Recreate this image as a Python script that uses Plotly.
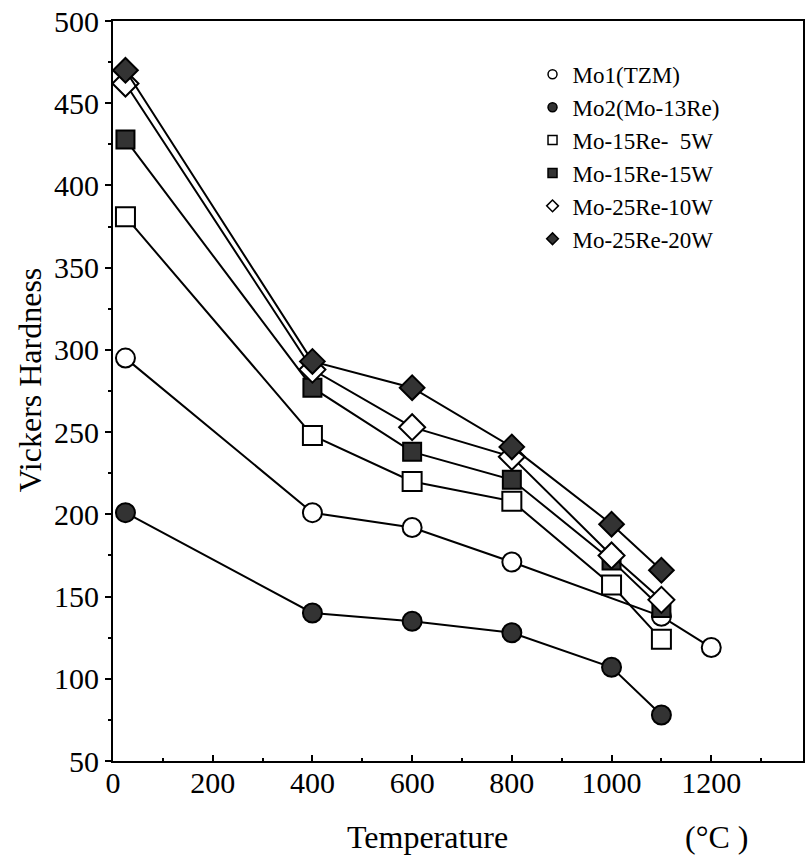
import plotly.graph_objects as go

# ---- data ----
temps_mo1 = [25, 400, 600, 800, 1100, 1200]
hv_mo1 = [295, 201, 192, 171, 138, 119]

temps = [25, 400, 600, 800, 1000, 1100]
hv_mo2 = [201, 140, 135, 128, 107, 78]
hv_15re5w = [381, 248, 220, 208, 157, 124]
hv_15re15w = [428, 277, 238, 221, 172, 143]
hv_25re10w = [462, 288, 253, 235, 175, 148]
hv_25re20w = [470, 293, 277, 241, 194, 166]

names = ["Mo1(TZM)", "Mo2(Mo-13Re)", "Mo-15Re-\u00a0\u00a05W",
         "Mo-15Re-15W", "Mo-25Re-10W", "Mo-25Re-20W"]

x_ticks = [0, 200, 400, 600, 800, 1000, 1200]
y_ticks = [50, 100, 150, 200, 250, 300, 350, 400, 450, 500]

DARK = "#333333"
series = [
    (temps_mo1, hv_mo1, "circle", "white", 19),
    (temps, hv_mo2, "circle", DARK, 19),
    (temps, hv_15re5w, "square", "white", 19),
    (temps, hv_15re15w, "square", DARK, 18),
    (temps, hv_25re10w, "diamond", "white", 20),
    (temps, hv_25re20w, "diamond", DARK, 19),
]

fig = go.Figure()
for (xs, ys, sym, fill, size), name in zip(series, names):
    fig.add_trace(go.Scatter(
        x=xs, y=ys, mode="lines+markers", showlegend=False,
        line=dict(color="black", width=2),
        marker=dict(symbol=sym, size=size, color=fill,
                    line=dict(color="black", width=2)),
    ))
for (xs, ys, sym, fill, size), name in zip(series, names):
    fig.add_trace(go.Scatter(
        x=[None], y=[None], mode="markers", name=name,
        marker=dict(symbol=sym, size=9, color=fill,
                    line=dict(color="black", width=1.5)),
    ))

font = "Liberation Serif, Times New Roman, serif"
fig.update_layout(
    width=809, height=865,
    margin=dict(l=113, r=4, t=13, b=104),
    paper_bgcolor="white", plot_bgcolor="white",
    font=dict(family=font, size=30, color="black"),
    legend=dict(x=0.608, y=0.957, xanchor="left", yanchor="top",
                font=dict(size=23, family=font),
                bgcolor="rgba(0,0,0,0)", itemwidth=30),
    xaxis=dict(range=[0, 1384], tickvals=x_ticks, showgrid=False, zeroline=False,
               showline=True, linecolor="black", linewidth=2, mirror=True,
               ticks="inside", ticklen=6, tickwidth=1.5, tickcolor="black",
               minor=dict(dtick=100, ticks="inside", ticklen=3, tickcolor="black"),
               tickfont=dict(size=30), ticklabelstandoff=-6),
    yaxis=dict(range=[50, 500], tickvals=y_ticks, showgrid=False, zeroline=False,
               showline=True, linecolor="black", linewidth=2, mirror=True,
               ticks="outside", ticklen=6, tickwidth=1.5, tickcolor="black",
               minor=dict(dtick=25, ticks="outside", ticklen=3, tickcolor="black"),
               tickfont=dict(size=30), ticklabeloverflow="allow"),
    annotations=[
        dict(text="Vickers Hardness", x=30, y=376, showarrow=False,
             textangle=-90, font=dict(size=32)),
        dict(text="Temperature", x=428, y=838, showarrow=False,
             font=dict(size=32)),
        dict(text="(°C )", x=718, y=838, showarrow=False, font=dict(size=32)),
    ],
)
# convert pixel-placed annotations to paper coordinates
pw, ph = 809 - 113 - 4, 865 - 13 - 104
for a in fig.layout.annotations:
    a.xref = "paper"; a.yref = "paper"
    a.xanchor = "center"; a.yanchor = "middle"
    a.x = (a.x - 113) / pw
    a.y = 1 - (a.y - 13) / ph

fig.write_html("out.html")
